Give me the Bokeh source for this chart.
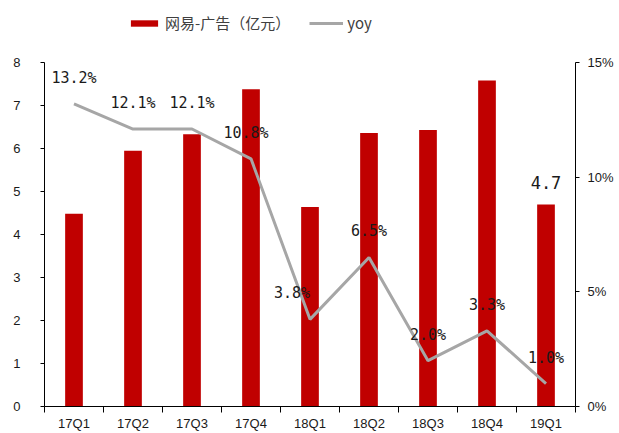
from bokeh.plotting import figure
from bokeh.layouts import column
from bokeh.models import (Range1d, LinearAxis, FixedTicker, Legend, LegendItem,
                          ColumnDataSource, NumeralTickFormatter)
from bokeh.core.properties import value
from bokeh.embed import file_html
from bokeh.resources import INLINE
import numpy as np

# ---- data ----
quarters = ["17Q1", "17Q2", "17Q3", "17Q4", "18Q1", "18Q2", "18Q3", "18Q4", "19Q1"]
ad_revenue = [4.48, 5.95, 6.33, 7.38, 4.64, 6.36, 6.43, 7.58, 4.7]   # 亿元
yoy = [0.132, 0.121, 0.121, 0.108, 0.038, 0.065, 0.020, 0.033, 0.010]
bar_label_index = [8]   # only last bar labelled
left_ticks = [0, 1, 2, 3, 4, 5, 6, 7, 8]
right_ticks = [0.0, 0.05, 0.10, 0.15]
series_names = ["网易-广告（亿元）", "yoy"]

# label nudges in screen pixels (style, not data)
label_dx = [0, 0, 0, -5, -18, 0, 0, 0, 0]

BAR = "#C00000"
LINE = "#A6A6A6"
TXT = "#1a1a1a"

xc = np.arange(len(quarters)) + 0.5

# ---------- legend strip (series hidden, only the legend shows) ----------
lf = figure(width=619, height=46, output_backend="svg", toolbar_location=None,
            x_axis_type=None, y_axis_type=None,
            x_range=Range1d(0, len(quarters)), y_range=Range1d(100, 101), min_border=0)
lf.outline_line_color = None
lf.xgrid.visible = False
lf.ygrid.visible = False
lbar = lf.vbar(x=xc, top=ad_revenue, width=0.3, fill_color=BAR, line_color=None)
lline = lf.line(x=xc, y=yoy, line_color=LINE, line_width=3)
lbar.visible = False
lline.visible = False
legend = Legend(items=[LegendItem(label=series_names[0], renderers=[lbar]),
                       LegendItem(label=series_names[1], renderers=[lline])],
                orientation="horizontal", location=(83, 13),
                glyph_width=34, glyph_height=8, label_standoff=4, spacing=19,
                label_text_font="Noto Sans CJK SC", label_text_font_size="15px",
                label_text_color="#404040", border_line_color=None,
                background_fill_alpha=0, inactive_fill_alpha=0,
                padding=0, margin=0)
lf.add_layout(legend, "center")

# ---------- main chart ----------
p = figure(frame_width=531, frame_height=344, output_backend="svg", toolbar_location=None,
           x_range=Range1d(0, len(quarters)), y_range=Range1d(0, 8),
           min_border_left=44, min_border_right=44, min_border_top=16, min_border_bottom=27)
p.extra_y_ranges = {"yoy": Range1d(0, 0.15)}
p.outline_line_color = None
p.xgrid.visible = False
p.ygrid.visible = False

src = ColumnDataSource(dict(x=xc, rev=ad_revenue, yoy=yoy, dx=label_dx,
                            yoy_lbl=[f"{v*100:.1f}%" for v in yoy]))

p.vbar(x="x", top="rev", width=0.3, fill_color=BAR, line_color=None, source=src)
p.line(x="x", y="yoy", y_range_name="yoy", line_color=LINE, line_width=3, source=src)

# yoy labels
p.text(x="x", y="yoy", text="yoy_lbl", y_range_name="yoy", source=src,
       x_offset="dx", y_offset=-26, text_align="center", text_baseline="middle",
       text_font=value("DejaVu Sans Mono"), text_font_size="15px", text_color=TXT)

# bar label
blx = [xc[i] for i in bar_label_index]
bly = [ad_revenue[i] for i in bar_label_index]
p.text(x=blx, y=bly, text=[f"{ad_revenue[i]:.1f}" for i in bar_label_index],
       text_align="center", text_baseline="middle", y_offset=-22,
       text_font=value("DejaVu Sans Mono"), text_font_size="17px", text_color=TXT)

# x axis: labels at centers, ticks between categories
xa = p.xaxis[0]
xa.ticker = FixedTicker(ticks=list(xc), minor_ticks=list(range(len(quarters) + 1)))
xa.major_label_overrides = {float(x): q for x, q in zip(xc, quarters)}
xa.major_tick_out = 0
xa.major_tick_in = 0
xa.minor_tick_out = 6
xa.minor_tick_in = 0
xa.minor_tick_line_color = "black"
xa.axis_line_color = "black"
xa.major_label_standoff = 3
xa.major_label_text_font = "Liberation Sans"
xa.major_label_text_font_size = "13px"
xa.major_label_text_color = TXT

ya = p.yaxis[0]
ya.ticker = FixedTicker(ticks=left_ticks)
ya.major_tick_out = 4
ya.major_tick_in = 0
ya.minor_tick_line_color = None
ya.axis_line_color = "black"
ya.major_label_standoff = 20
ya.major_label_text_font = "Liberation Sans"
ya.major_label_text_font_size = "13px"
ya.major_label_text_color = TXT

ra = LinearAxis(y_range_name="yoy", ticker=FixedTicker(ticks=right_ticks),
                formatter=NumeralTickFormatter(format="0%"))
ra.major_tick_out = 4
ra.major_tick_in = 0
ra.minor_tick_line_color = None
ra.axis_line_color = "black"
ra.major_label_standoff = 8
ra.major_label_text_font = "Liberation Sans"
ra.major_label_text_font_size = "13px"
ra.major_label_text_color = TXT
p.add_layout(ra, "right")

layout = column(lf, p, spacing=0)
open("out.html", "w").write(file_html(layout, INLINE))
